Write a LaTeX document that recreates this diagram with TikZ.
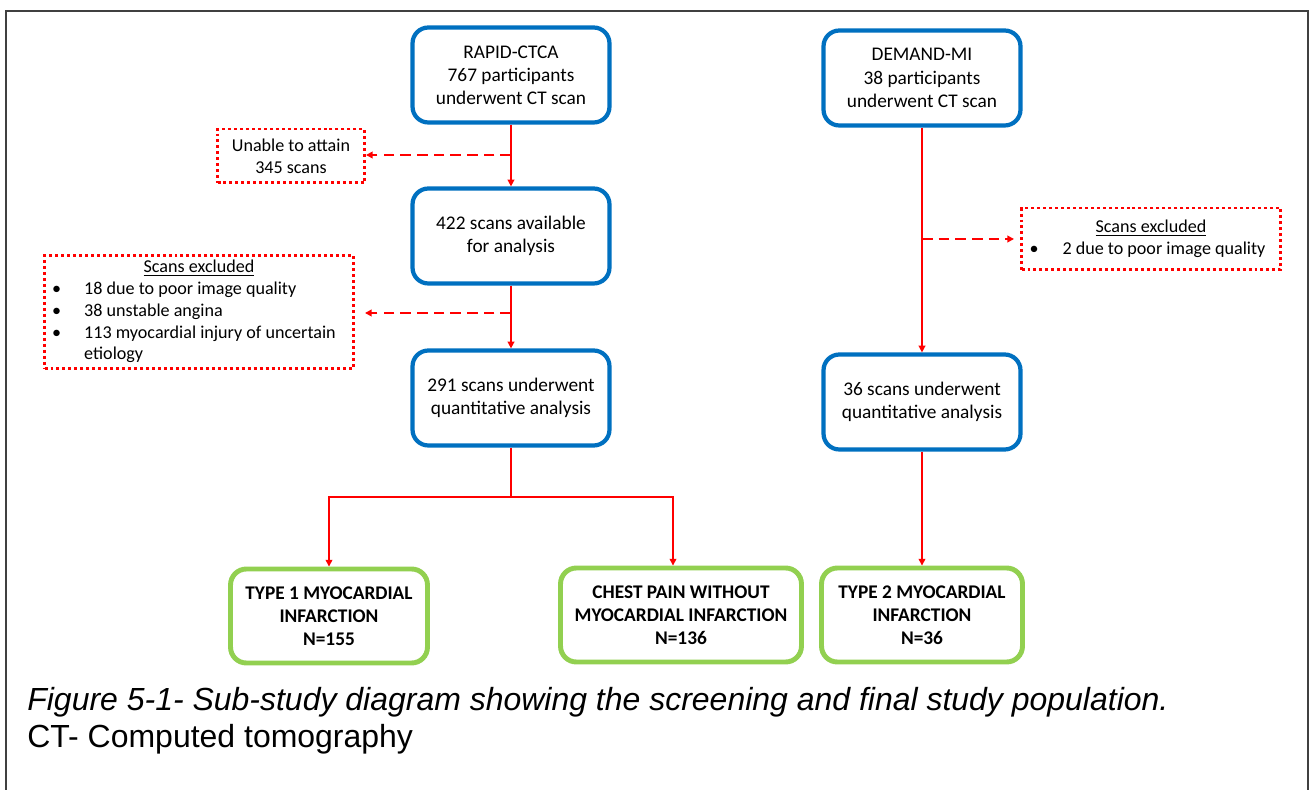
\documentclass[tikz,border=0pt]{standalone}
\usepackage{fontspec}
\setmainfont{Carlito}
\newfontfamily\capfont{Liberation Sans}
\usetikzlibrary{arrows.meta,positioning}
\definecolor{boxblue}{HTML}{0070C0}
\definecolor{boxgreen}{HTML}{92D050}
\definecolor{framegray}{HTML}{404040}

\begin{document}
\begin{tikzpicture}[x=0.02cm,y=-0.02cm,
  stage/.style={draw=boxblue,line width=2.4pt,rounded corners=9pt,fill=white,align=center,
                font=\fontsize{11}{13.2}\selectfont,minimum width=3.94cm,minimum height=1.9cm,inner sep=2pt},
  group/.style={draw=boxgreen,line width=2.8pt,rounded corners=9pt,fill=white,align=center,
                font=\fontsize{11}{13.2}\selectfont\bfseries,minimum height=1.88cm,inner sep=2pt},
  excl/.style={draw=red,line width=1.7pt,dash pattern=on 1.7pt off 1.7pt,align=center,
               font=\fontsize{10.3}{12.4}\selectfont,inner sep=1pt},
  arr/.style={red,line width=0.8pt,-{Triangle[length=3.8pt,width=3.8pt]}},
  darr/.style={arr,line width=1.1pt,dash pattern=on 6pt off 3.5pt},
  caption/.style={font=\capfont\fontsize{18.2}{22}\selectfont,inner sep=0pt,anchor=base west}]
  \useasboundingbox (0,0) rectangle (1312,790);
  \draw[framegray,line width=1.1pt] (6,790) |- (1308,11) -- (1308,790);

  % RAPID-CTCA branch
  \node[stage] (rapid) at (511,75) {RAPID-CTCA\\767 participants\\underwent CT scan};
  \node[stage] (avail) at (511,236) {422 scans available\\for analysis};
  \node[stage] (quantA) at (511,398) {291 scans underwent\\quantitative analysis};
  \node[excl,minimum width=2.94cm,minimum height=1.08cm] (unable) at (291,156) {Unable to attain\\345 scans};
  \node[excl,minimum width=6.18cm,minimum height=2.16cm] (exclA) at (199,312) {%
    \begin{tabular}{@{}p{0.64cm}@{}l@{\hspace{0.2cm}}}
      \multicolumn{2}{@{}c@{}}{\underline{Scans excluded}}\\
      \textbullet & 18 due to poor image quality\\
      \textbullet & 38 unstable angina\\
      \textbullet & 113 myocardial injury of uncertain\\
                  & etiology
    \end{tabular}};

  % DEMAND-MI branch
  \node[stage] (demand) at (922,78) {DEMAND-MI\\38 participants\\underwent CT scan};
  \node[stage] (quantB) at (922,402) {36 scans underwent\\quantitative analysis};
  \node[excl,minimum width=5.18cm,minimum height=1.24cm] (exclB) at (1151,239) {%
    \begin{tabular}{@{}p{0.66cm}@{}l@{\hspace{0.14cm}}}
      \multicolumn{2}{@{}c@{}}{\underline{Scans excluded}}\\
      \textbullet & 2 due to poor image quality
    \end{tabular}};

  % final groups
  \node[group,minimum width=3.94cm] (typeA) at (329,616) {TYPE 1 MYOCARDIAL\\INFARCTION\\N=155};
  \node[group,minimum width=4.82cm] (chest) at (681,615) {CHEST PAIN WITHOUT\\MYOCARDIAL INFARCTION\\N=136};
  \node[group,minimum width=4.02cm] (typeB) at (922,615) {TYPE 2 MYOCARDIAL\\INFARCTION\\N=36};

  \coordinate (tapA) at (511,155);
  \coordinate (tapB) at (511,313);
  \coordinate (tapC) at (922,239);
  \coordinate (split) at (511,497);

  \draw[arr] (rapid) -- (avail);
  \draw[arr] (avail) -- (quantA);
  \draw[arr] (demand) -- (quantB);
  \draw[arr] (quantB) -- (typeB);
  \draw[red,line width=0.8pt] (quantA) -- (split);
  \draw[arr] (split) -| (typeA);
  \draw[arr] (split) -| ([xshift=-0.16cm]chest.north);
  \draw[darr] (tapA) -- (tapA -| unable.east);
  \draw[darr,shorten >=0.2cm] (tapB) -- (tapB -| exclA.east);
  \draw[darr,shorten >=0.12cm] (tapC) -- (tapC -| exclB.west);

  % caption
  \node[caption] (capA) at (27,710) {\itshape Figure 5-1- Sub-study diagram showing the screening and final study population.};
  \node[caption] (capB) at (27,747) {CT- Computed tomography};
\end{tikzpicture}
\end{document}
